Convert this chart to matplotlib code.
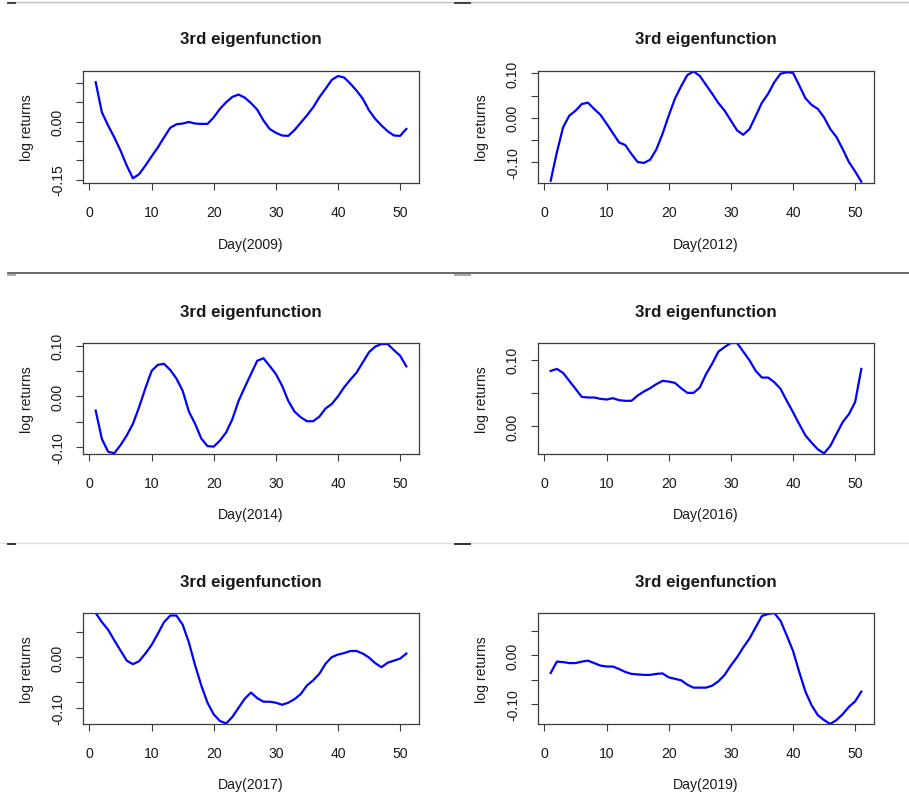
import matplotlib

matplotlib.use("Agg")
import matplotlib.lines
import matplotlib.pyplot

FIG_W = 909
FIG_H = 812
DPI = 100

DAYS = list(range(1, 52))
YEARS = ["2009", "2012", "2014", "2016", "2017", "2019"]

Y2009 = [0.102, 0.024, -0.010, -0.041, -0.075, -0.114, -0.147, -0.136, -0.114, -0.090,
         -0.067, -0.041, -0.016, -0.007, -0.005, -0.001, -0.005, -0.006, -0.006, 0.011,
         0.033, 0.050, 0.064, 0.070, 0.062, 0.048, 0.031, 0.003, -0.019, -0.029,
         -0.036, -0.037, -0.022, -0.003, 0.016, 0.037, 0.063, 0.085, 0.108, 0.118,
         0.114, 0.098, 0.080, 0.059, 0.029, 0.007, -0.010, -0.025, -0.036, -0.037, -0.019]
Y2012 = [-0.141, -0.077, -0.021, 0.005, 0.016, 0.031, 0.034, 0.020, 0.007, -0.013,
         -0.034, -0.055, -0.061, -0.081, -0.099, -0.101, -0.094, -0.071, -0.036, 0.005,
         0.043, 0.071, 0.096, 0.104, 0.094, 0.074, 0.054, 0.033, 0.016, -0.006,
         -0.028, -0.038, -0.025, 0.004, 0.034, 0.054, 0.080, 0.099, 0.102, 0.101,
         0.073, 0.044, 0.029, 0.020, 0.001, -0.025, -0.043, -0.070, -0.099, -0.120, -0.143]
Y2014 = [-0.028, -0.084, -0.109, -0.112, -0.096, -0.077, -0.054, -0.021, 0.016, 0.050,
         0.062, 0.064, 0.052, 0.035, 0.011, -0.030, -0.054, -0.083, -0.098, -0.099,
         -0.087, -0.071, -0.045, -0.009, 0.018, 0.044, 0.070, 0.075, 0.060, 0.044,
         0.021, -0.009, -0.030, -0.041, -0.049, -0.049, -0.040, -0.024, -0.015, 0.000,
         0.018, 0.033, 0.047, 0.067, 0.087, 0.098, 0.103, 0.103, 0.091, 0.080, 0.059]
Y2016 = [0.083, 0.086, 0.080, 0.068, 0.056, 0.044, 0.043, 0.043, 0.041, 0.040,
         0.042, 0.039, 0.038, 0.038, 0.046, 0.052, 0.057, 0.063, 0.068, 0.067,
         0.065, 0.057, 0.050, 0.050, 0.058, 0.078, 0.094, 0.112, 0.119, 0.125,
         0.125, 0.112, 0.099, 0.083, 0.073, 0.073, 0.066, 0.056, 0.038, 0.021,
         0.003, -0.014, -0.025, -0.035, -0.041, -0.030, -0.012, 0.006, 0.018, 0.036, 0.086]
Y2017 = [0.087, 0.069, 0.054, 0.033, 0.013, -0.007, -0.014, -0.008, 0.007, 0.024,
         0.046, 0.069, 0.082, 0.082, 0.064, 0.029, -0.016, -0.056, -0.090, -0.113,
         -0.126, -0.131, -0.118, -0.100, -0.082, -0.070, -0.081, -0.088, -0.088, -0.090,
         -0.094, -0.090, -0.083, -0.073, -0.056, -0.046, -0.033, -0.013, 0.000, 0.005,
         0.008, 0.012, 0.012, 0.007, -0.001, -0.012, -0.020, -0.011, -0.007, -0.003, 0.007]
Y2019 = [-0.036, -0.013, -0.014, -0.016, -0.016, -0.013, -0.011, -0.016, -0.021, -0.023,
         -0.023, -0.028, -0.034, -0.038, -0.039, -0.040, -0.040, -0.038, -0.037, -0.045,
         -0.048, -0.051, -0.060, -0.066, -0.066, -0.066, -0.062, -0.053, -0.040, -0.021,
         -0.004, 0.016, 0.034, 0.057, 0.080, 0.084, 0.086, 0.070, 0.040, 0.009,
         -0.034, -0.074, -0.102, -0.122, -0.132, -0.140, -0.132, -0.120, -0.105, -0.094, -0.074]
SERIES = [Y2009, Y2012, Y2014, Y2016, Y2017, Y2019]

X_TICKS = [0, 10, 20, 30, 40, 50]
Y_TICKS = [
    [-0.15, -0.10, -0.05, 0.00, 0.05, 0.10],
    [-0.10, -0.05, 0.00, 0.05, 0.10],
    [-0.10, -0.05, 0.00, 0.05, 0.10],
    [0.00, 0.05, 0.10],
    [-0.10, -0.05, 0.00, 0.05],
    [-0.10, -0.05, 0.00, 0.05],
]
# labels R kept (the others were dropped for overlap)
Y_LABELS = [
    ["-0.15", "", "", "0.00", "", ""],
    ["-0.10", "", "0.00", "", "0.10"],
    ["-0.10", "", "0.00", "", "0.10"],
    ["0.00", "", "0.10"],
    ["-0.10", "", "0.00", ""],
    ["-0.10", "", "0.00", ""],
]
Y_LIMS = [
    (-0.159, 0.131),
    (-0.146, 0.105),
    (-0.1135, 0.105),
    (-0.042, 0.125),
    (-0.132, 0.087),
    (-0.140, 0.086),
]

# plot boxes in pixels: (left, top, right, bottom)
COL_X = [(83, 419), (538, 874)]
ROW_Y = [(72, 184), (344, 455), (614, 725)]

TEXT = "#1a1a1a"
FRAME = "#3a3a3a"


def fig_line(fig, x0, x1, y, color, lw=1.0):
    fig.add_artist(
        matplotlib.lines.Line2D(
            [x0 / FIG_W, x1 / FIG_W],
            [1 - y / FIG_H, 1 - y / FIG_H],
            transform=fig.transFigure,
            color=color,
            linewidth=lw,
        )
    )


def plot_panel(ax, idx):
    ax.plot(DAYS, SERIES[idx], color="#0000ff", linewidth=1.6)
    ax.set_xlim(-1.04, 53.04)
    ax.set_ylim(*Y_LIMS[idx])
    ax.set_xticks(X_TICKS)
    ax.set_xticklabels([str(t) for t in X_TICKS])
    ax.set_yticks(Y_TICKS[idx])
    ax.set_yticklabels(Y_LABELS[idx], rotation=90, va="center")
    for spine in ax.spines.values():
        spine.set_color(FRAME)
        spine.set_linewidth(0.9)
    ax.tick_params(axis="both", direction="out", length=5, width=0.8,
                   color=FRAME, labelcolor=TEXT, labelsize=10.1)
    ax.tick_params(axis="x", pad=10.5)
    ax.tick_params(axis="y", pad=8)
    ax.set_xlabel(f"Day({YEARS[idx]})", fontsize=10.1, color=TEXT, va="center")
    ax.set_ylabel("log returns", fontsize=10.1, color=TEXT, va="center")
    ax.xaxis.set_label_coords(0.5, -0.545)
    ax.yaxis.set_label_coords(-0.167, 0.5)
    ax.text(0.5, 1.286, "3rd eigenfunction", transform=ax.transAxes,
            ha="center", va="center", fontsize=12.2, fontweight="bold", color=TEXT)


def main():
    matplotlib.rcParams["font.family"] = ["Liberation Sans", "DejaVu Sans"]
    fig = matplotlib.pyplot.figure(figsize=(FIG_W / DPI, FIG_H / DPI), dpi=DPI)
    fig.patch.set_facecolor("white")

    idx = 0
    for row in ROW_Y:
        for col in COL_X:
            left, right = col
            top, bottom = row
            ax = fig.add_axes([
                left / FIG_W,
                1 - bottom / FIG_H,
                (right - left) / FIG_W,
                (bottom - top) / FIG_H,
            ])
            plot_panel(ax, idx)
            idx += 1

    # separator strips between the stitched screenshots
    fig_line(fig, 8, FIG_W, 3.3, "#bdbdbd")
    fig_line(fig, 8, 15, 4.3, "#333333", 1.3)
    fig_line(fig, 455, 470, 4.3, "#333333", 1.3)
    fig_line(fig, 8, FIG_W, 274.3, "#505050", 1.2)
    fig_line(fig, 8, 15, 275.6, "#a0a0a0", 1.3)
    fig_line(fig, 455, 470, 275.6, "#a0a0a0", 1.3)
    fig_line(fig, 0, FIG_W, 544.0, "#e0e0e0")
    fig_line(fig, 8, 15, 545.3, "#222222", 1.3)
    fig_line(fig, 455, 470, 545.3, "#222222", 1.3)

    fig.savefig("out.png", dpi=DPI)


if __name__ == "__main__":
    main()
